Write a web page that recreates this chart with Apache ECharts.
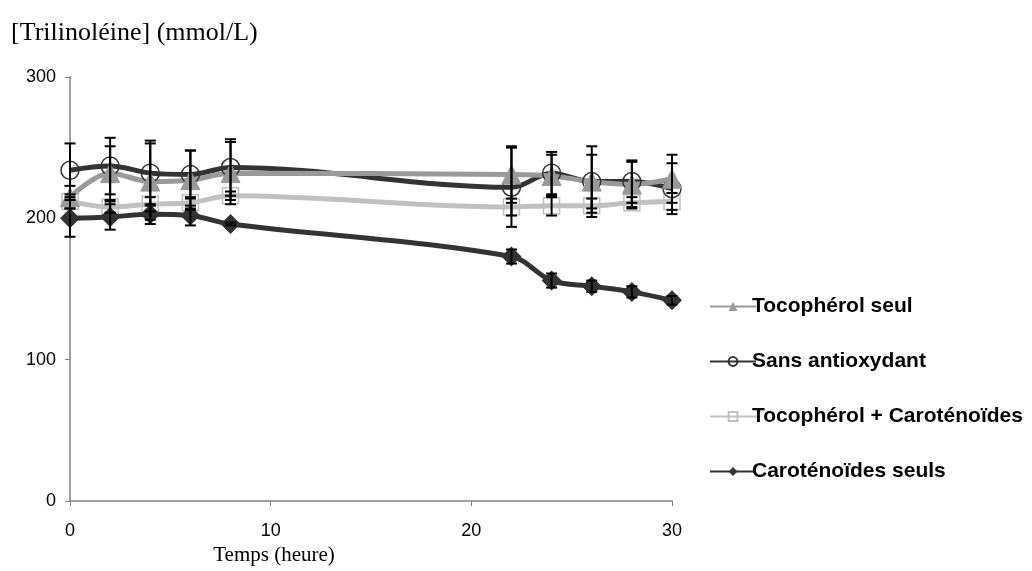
<!DOCTYPE html>
<html lang="fr">
<head>
    <meta charset="utf-8">
    <title>Trilinoléine</title>
    <script src="https://cdn.jsdelivr.net/npm/echarts@6/dist/echarts.min.js"></script>
    <style>
        html, body { margin: 0; padding: 0; background: #fff; }
        #chart { width: 1032px; height: 571px; }
    </style>
</head>
<body>
    <div id="chart"></div>
    <script>
        // temps (heure)
        var hours = [0, 2, 4, 6, 8, 22, 24, 26, 28, 30];

        // moyennes
        var tocoSeul = [215, 232, 226, 227, 232, 231, 230, 226, 224, 228];
        var sansAntiox = [234, 237, 232, 231, 236, 222, 232, 226, 226, 221];
        var tocoCaro = [212, 208, 210, 211, 216, 208, 209, 209, 211, 212];
        var caroSeuls = [200, 201, 203, 202, 196, 173, 156, 152, 148, 142];

        // écarts (barres d'erreur)
        var tocoSeulErr = [8, 19, 27, 21, 22, 20, 15, 19, 16, 17];
        var sansAntioxErr = [19, 20, 23, 17, 20, 28, 15, 25, 15, 18];
        var tocoCaroErr = [5, 4, 5, 4, 3, 6, 7, 5, 4, 6];
        var caroSeulsErr = [13, 9, 7, 7, 1, 5, 5, 4, 4, 3];

        var yTicks = [0, 100, 200, 300];
        var xTicks = [0, 10, 20, 30];

        function pairs(vals) {
            return hours.map(function (h, i) { return [h, vals[i]]; });
        }
        function bars(vals, errs) {
            return hours.map(function (h, i) { return [h, vals[i] - errs[i], vals[i] + errs[i]]; });
        }

        function errorSeries(vals, errs) {
            return {
                type: 'custom',
                z: 5,
                silent: true,
                data: bars(vals, errs),
                encode: { x: 0, y: [1, 2] },
                renderItem: function (params, api) {
                    var lo = api.coord([api.value(0), api.value(1)]);
                    var hi = api.coord([api.value(0), api.value(2)]);
                    var w = 5.5;
                    var st = { stroke: '#000', lineWidth: 2 };
                    return {
                        type: 'group',
                        children: [
                            { type: 'line', shape: { x1: lo[0], y1: lo[1], x2: hi[0], y2: hi[1] }, style: st },
                            { type: 'line', shape: { x1: lo[0] - w, y1: lo[1], x2: lo[0] + w, y2: lo[1] }, style: st },
                            { type: 'line', shape: { x1: hi[0] - w, y1: hi[1], x2: hi[0] + w, y2: hi[1] }, style: st }
                        ]
                    };
                }
            };
        }

        var option = {
            backgroundColor: '#fff',
            animation: false,
            title: {
                text: '[Trilinoléine] (mmol/L)',
                left: 6,
                top: 15,
                textStyle: { fontFamily: 'Liberation Serif', fontSize: 26, fontWeight: 'normal', color: '#000' }
            },
            legend: {
                orient: 'vertical',
                left: 704,
                top: 291,
                itemWidth: 46,
                itemHeight: 11,
                itemGap: 34,
                data: ['Tocophérol seul', 'Sans antioxydant', 'Tocophérol + Caroténoïdes', 'Caroténoïdes seuls'],
                textStyle: { fontFamily: 'Liberation Sans', fontSize: 21, fontWeight: 'bold', color: '#000', padding: [0, 0, 0, -9] }
            },
            grid: { left: 70, right: 360, top: 77, bottom: 68 },
            xAxis: {
                type: 'value',
                min: 0,
                max: 30,
                interval: 10,
                name: 'Temps (heure)',
                nameLocation: 'middle',
                nameGap: 43,
                nameTextStyle: { fontFamily: 'Liberation Serif', fontSize: 21, color: '#000', padding: [0, 194, 0, 0] },
                axisLine: { lineStyle: { color: '#808080', width: 1.5 } },
                axisTick: { show: true, length: 5, lineStyle: { color: '#808080' }, customValues: xTicks },
                axisLabel: { margin: 21, fontFamily: 'Liberation Sans', fontSize: 18, color: '#000', customValues: xTicks },
                splitLine: { show: false }
            },
            yAxis: {
                type: 'value',
                min: 0,
                max: 300,
                interval: 100,
                axisLine: { show: true, lineStyle: { color: '#808080', width: 1.5 } },
                axisTick: { show: true, length: 5, lineStyle: { color: '#808080' }, customValues: yTicks },
                axisLabel: { margin: 14, fontFamily: 'Liberation Sans', fontSize: 18, color: '#000', customValues: yTicks },
                splitLine: { show: false }
            },
            series: [
                {
                    name: 'Tocophérol + Caroténoïdes',
                    type: 'line',
                    data: pairs(tocoCaro),
                    smooth: 0.35,
                    symbol: 'rect',
                    symbolSize: 16,
                    z: 2,
                    lineStyle: { color: '#c0c0c0', width: 5 },
                    itemStyle: { color: 'rgba(255,255,255,0)', borderColor: '#c0c0c0', borderWidth: 1.5 }
                },
                {
                    name: 'Sans antioxydant',
                    type: 'line',
                    data: pairs(sansAntiox),
                    smooth: 0.35,
                    symbol: 'circle',
                    symbolSize: 18,
                    z: 3,
                    lineStyle: { color: '#333', width: 5 },
                    itemStyle: { color: 'rgba(255,255,255,0)', borderColor: '#333', borderWidth: 1.5 }
                },
                {
                    name: 'Tocophérol seul',
                    type: 'line',
                    data: pairs(tocoSeul),
                    smooth: 0.35,
                    symbol: 'triangle',
                    symbolSize: 19,
                    z: 3,
                    lineStyle: { color: '#999', width: 5 },
                    itemStyle: { color: '#999', borderColor: '#999' }
                },
                {
                    name: 'Caroténoïdes seuls',
                    type: 'line',
                    data: pairs(caroSeuls),
                    smooth: 0.35,
                    symbol: 'diamond',
                    symbolSize: 20,
                    z: 4,
                    lineStyle: { color: '#333', width: 5 },
                    itemStyle: { color: '#333' }
                },
                errorSeries(tocoCaro, tocoCaroErr),
                errorSeries(sansAntiox, sansAntioxErr),
                errorSeries(tocoSeul, tocoSeulErr),
                errorSeries(caroSeuls, caroSeulsErr)
            ]
        };

        var chart = echarts.init(document.getElementById('chart'));
        chart.setOption(option);
    </script>
</body>
</html>
